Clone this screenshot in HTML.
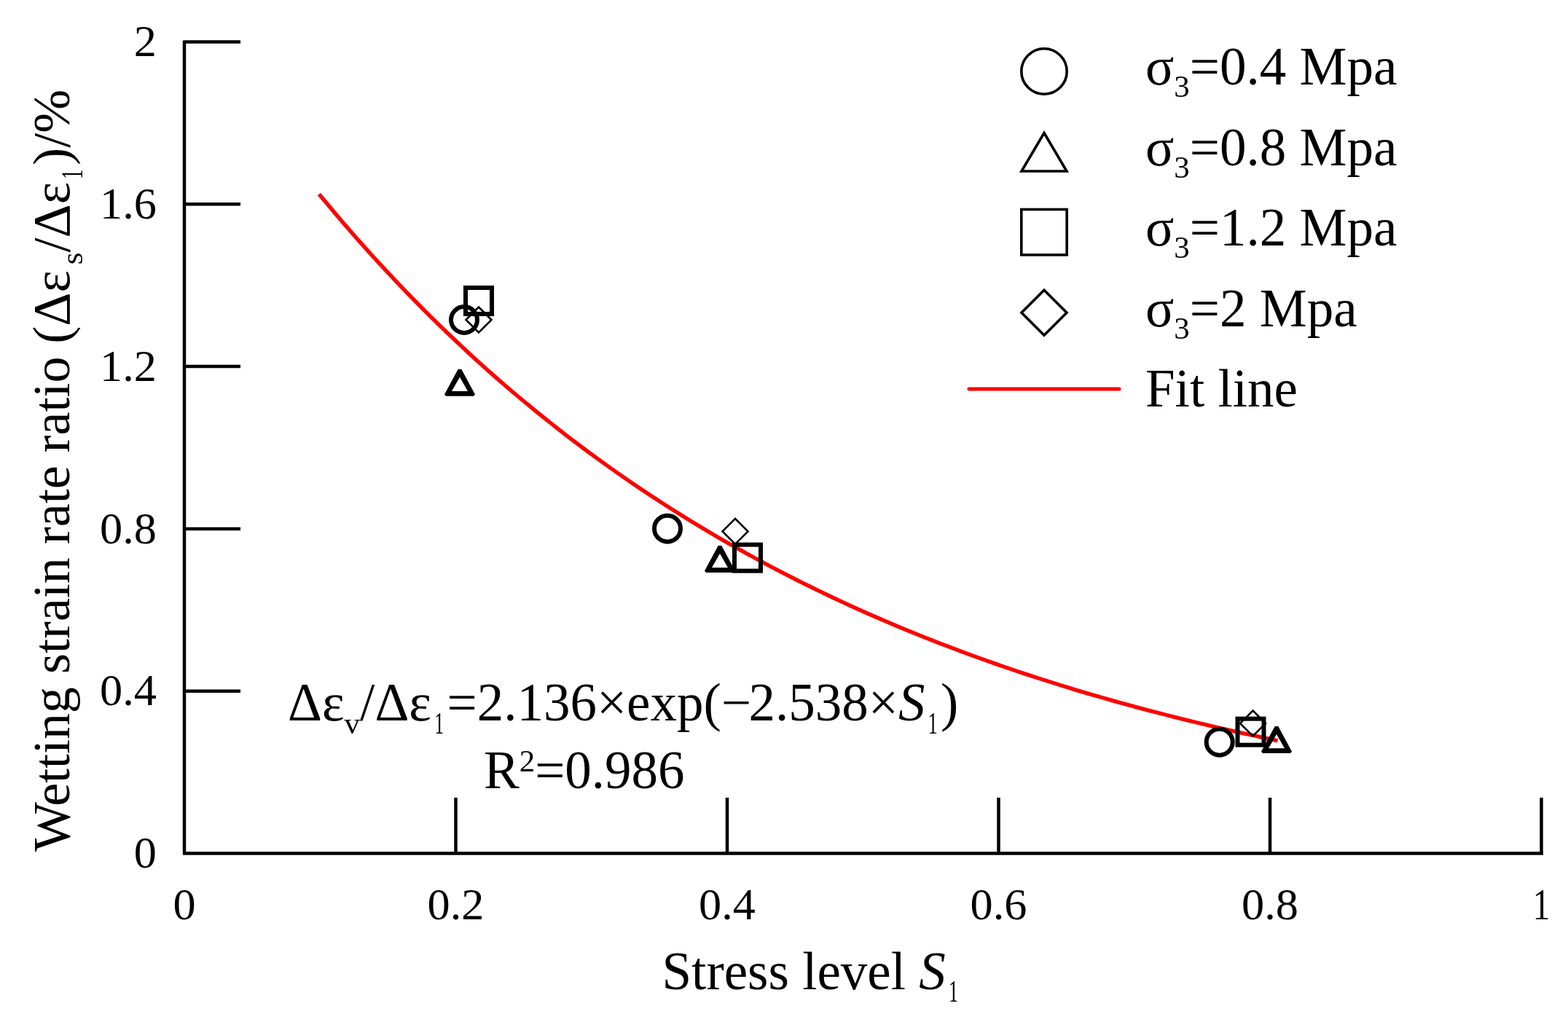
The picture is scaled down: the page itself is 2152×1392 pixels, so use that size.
<!DOCTYPE html>
<html><head><meta charset="utf-8"><title>Wetting strain rate ratio vs stress level</title>
<style>
html,body{margin:0;padding:0;background:#fff;}
svg{display:block;}
text{font-family:"Liberation Serif","Times New Roman",serif;fill:#000;}
.tk{font-size:62.3px;}
.lg{font-size:73px;}
.sb{font-size:43px;}
</style></head><body>
<svg width="2152" height="1392" viewBox="0 0 2152 1392">
<rect width="2152" height="1392" fill="#fff"/>
<path d="M253,57.5 H330 M253,1171.5 V55.5" stroke="#000" stroke-width="4.5" fill="none"/>
<path d="M253,948.7 H330" stroke="#000" stroke-width="4.5"/>
<path d="M253,725.9 H330" stroke="#000" stroke-width="4.5"/>
<path d="M253,503.1 H330" stroke="#000" stroke-width="4.5"/>
<path d="M253,280.3 H330" stroke="#000" stroke-width="4.5"/>
<path d="M251,1171.5 H2118" stroke="#000" stroke-width="4.5"/>
<path d="M625.5,1171.5 V1095" stroke="#000" stroke-width="4.5"/>
<path d="M998.0,1171.5 V1095" stroke="#000" stroke-width="4.5"/>
<path d="M1370.5,1171.5 V1095" stroke="#000" stroke-width="4.5"/>
<path d="M1743.0,1171.5 V1095" stroke="#000" stroke-width="4.5"/>
<path d="M2115.5,1171.5 V1095" stroke="#000" stroke-width="4.5"/>
<text x="214.9" y="1191.2" text-anchor="end" class="tk">0</text>
<text x="214.9" y="968.4" text-anchor="end" class="tk">0.4</text>
<text x="214.9" y="745.6" text-anchor="end" class="tk">0.8</text>
<text x="214.9" y="522.8" text-anchor="end" class="tk">1.2</text>
<text x="214.9" y="300.0" text-anchor="end" class="tk">1.6</text>
<text x="214.9" y="77.2" text-anchor="end" class="tk">2</text>
<text x="253.0" y="1262" text-anchor="middle" class="tk">0</text>
<text x="625.5" y="1262" text-anchor="middle" class="tk">0.2</text>
<text x="998.0" y="1262" text-anchor="middle" class="tk">0.4</text>
<text x="1370.5" y="1262" text-anchor="middle" class="tk">0.6</text>
<text x="1743.0" y="1262" text-anchor="middle" class="tk">0.8</text>
<text x="2115.5" y="1262" text-anchor="middle" class="tk" textLength="23.5" lengthAdjust="spacingAndGlyphs">1</text>
<polyline points="437.9,266.5 449.0,279.8 460.1,293.0 471.1,305.9 482.2,318.7 493.2,331.2 504.3,343.6 515.3,355.8 526.4,367.8 537.5,379.7 548.5,391.3 559.6,402.8 570.6,414.1 581.7,425.3 592.7,436.3 603.8,447.1 614.8,457.8 625.9,468.3 637.0,478.7 648.0,488.9 659.1,498.9 670.1,508.9 681.2,518.6 692.2,528.2 703.3,537.7 714.3,547.0 725.4,556.2 736.5,565.3 747.5,574.2 758.6,583.0 769.6,591.7 780.7,600.3 791.7,608.7 802.8,617.0 813.9,625.1 824.9,633.2 836.0,641.1 847.0,648.9 858.1,656.6 869.1,664.2 880.2,671.7 891.2,679.1 902.3,686.3 913.4,693.5 924.4,700.5 935.5,707.4 946.5,714.3 957.6,721.0 968.6,727.6 979.7,734.2 990.7,740.6 1001.8,747.0 1012.9,753.2 1023.9,759.4 1035.0,765.5 1046.0,771.4 1057.1,777.3 1068.1,783.2 1079.2,788.9 1090.3,794.5 1101.3,800.1 1112.4,805.5 1123.4,810.9 1134.5,816.2 1145.5,821.5 1156.6,826.6 1167.6,831.7 1178.7,836.7 1189.8,841.7 1200.8,846.5 1211.9,851.3 1222.9,856.0 1234.0,860.7 1245.0,865.2 1256.1,869.8 1267.2,874.2 1278.2,878.6 1289.3,882.9 1300.3,887.1 1311.4,891.3 1322.4,895.5 1333.5,899.5 1344.5,903.5 1355.6,907.5 1366.7,911.4 1377.7,915.2 1388.8,919.0 1399.8,922.7 1410.9,926.4 1421.9,930.0 1433.0,933.5 1444.0,937.0 1455.1,940.5 1466.2,943.9 1477.2,947.3 1488.3,950.6 1499.3,953.8 1510.4,957.0 1521.4,960.2 1532.5,963.3 1543.6,966.4 1554.6,969.4 1565.7,972.4 1576.7,975.3 1587.8,978.2 1598.8,981.0 1609.9,983.8 1620.9,986.6 1632.0,989.3 1643.1,992.0 1654.1,994.7 1665.2,997.3 1676.2,999.8 1687.3,1002.4 1698.3,1004.9 1709.4,1007.3 1720.4,1009.7 1731.5,1012.1 1742.6,1014.5 1753.6,1016.8" fill="none" stroke="#f00" stroke-width="5.4" stroke-linejoin="round"/>
<path d="M657,421.5 L674.5,439 L657,456.5 L639.5,439 Z" fill="none" stroke="#000" stroke-width="2.6"/>
<path d="M1009,712.0 L1026.5,729.5 L1009,747.0 L991.5,729.5 Z" fill="none" stroke="#000" stroke-width="2.6"/>
<path d="M1719.5,975.5 L1737.0,993 L1719.5,1010.5 L1702.0,993 Z" fill="none" stroke="#000" stroke-width="2.6"/>
<circle cx="637" cy="439" r="18" fill="none" stroke="#000" stroke-width="6"/>
<circle cx="916" cy="725.7" r="18" fill="none" stroke="#000" stroke-width="6"/>
<circle cx="1673.7" cy="1018.7" r="18" fill="none" stroke="#000" stroke-width="6"/>
<rect x="639" y="395" width="36" height="36" fill="none" stroke="#000" stroke-width="6"/>
<rect x="1008" y="747.7" width="36" height="36" fill="none" stroke="#000" stroke-width="6"/>
<rect x="1698.5" y="986.7" width="36" height="36" fill="none" stroke="#000" stroke-width="6"/>
<path d="M628.7,506.8 L633.3,506.8 L652.0,541.5 L650.0,543.8 L612.0,543.8 L610.0,541.5 Z M631.0,517.7 L642.0,537.0 L620.0,537.0 Z" fill="#000" fill-rule="evenodd"/>
<path d="M985.7,749.0 L990.3,749.0 L1009.0,783.7 L1007.0,786.0 L969.0,786.0 L967.0,783.7 Z M988.0,759.9 L999.0,779.2 L977.0,779.2 Z" fill="#000" fill-rule="evenodd"/>
<path d="M1749.7,997.0 L1754.3,997.0 L1773.0,1031.7 L1771.0,1034.0 L1733.0,1034.0 L1731.0,1031.7 Z M1752.0,1007.9 L1763.0,1027.2 L1741.0,1027.2 Z" fill="#000" fill-rule="evenodd"/>
<circle cx="1433" cy="98" r="31.2" fill="none" stroke="#000" stroke-width="3.6"/>
<path d="M1433,182.5 L1464,235 L1402,235 Z" fill="none" stroke="#000" stroke-width="3.6"/>
<rect x="1401.8" y="287.5" width="62.4" height="62.4" fill="none" stroke="#000" stroke-width="3.6"/>
<path d="M1433,398.3 L1464,429.3 L1433,460.3 L1402,429.3 Z" fill="none" stroke="#000" stroke-width="3.6"/>
<path d="M1330,534 H1536" stroke="#f00" stroke-width="5" stroke-linecap="round"/>
<text x="1572" y="116.4" class="lg">σ<tspan class="sb" dy="17">3</tspan><tspan dy="-17">=0.4 Mpa</tspan></text>
<text x="1572" y="226.8" class="lg">σ<tspan class="sb" dy="17">3</tspan><tspan dy="-17">=0.8 Mpa</tspan></text>
<text x="1572" y="337.2" class="lg">σ<tspan class="sb" dy="17">3</tspan><tspan dy="-17">=1.2 Mpa</tspan></text>
<text x="1572" y="447.6" class="lg">σ<tspan class="sb" dy="17">3</tspan><tspan dy="-17">=2 Mpa</tspan></text>
<text x="1572" y="558" class="lg">Fit line</text>
<text x="395" y="989.2" class="lg">Δε<tspan class="sb" dy="18">v</tspan><tspan dy="-18">/Δε</tspan><tspan class="sb" dx="4.3" dy="18" textLength="13" lengthAdjust="spacingAndGlyphs">1</tspan><tspan dx="4.2" dy="-18">=2.136×exp(−</tspan><tspan dx="-3.5">2.538×</tspan><tspan font-style="italic">S</tspan><tspan class="sb" dx="4.3" dy="18" textLength="13" lengthAdjust="spacingAndGlyphs">1</tspan><tspan dx="4.2" dy="-18">)</tspan></text>
<text x="664" y="1081.5" class="lg">R<tspan class="sb" dy="-22.5">2</tspan><tspan dy="22.5">=0.986</tspan></text>
<text x="908.5" y="1357.5" class="lg">Stress level <tspan font-style="italic">S</tspan><tspan class="sb" dx="4.3" dy="17" textLength="13" lengthAdjust="spacingAndGlyphs">1</tspan></text>
<text transform="translate(95,1169) rotate(-90)" x="0" y="0" class="lg" style="font-size:71.95px">Wetting strain rate ratio (Δε<tspan class="sb" dx="8" dy="18">s</tspan><tspan dy="-18">/Δε</tspan><tspan class="sb" dx="4.3" dy="18" textLength="13" lengthAdjust="spacingAndGlyphs">1</tspan><tspan dx="6" dy="-18">)/%</tspan></text>
</svg>
</body></html>
